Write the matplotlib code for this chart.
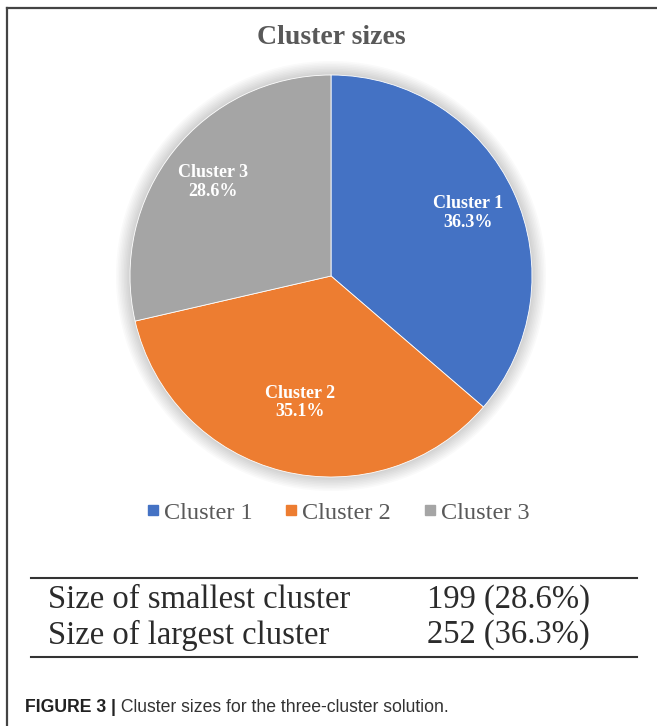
import numpy as np
import matplotlib
matplotlib.use("Agg")
import matplotlib.pyplot as plt
from matplotlib.patches import Circle
from matplotlib.lines import Line2D

# Data
CLUSTERS = ["Cluster 1", "Cluster 2", "Cluster 3"]
SHARES = [36.3, 35.1, 28.6]
COLORS = ["#4472C4", "#ED7D31", "#A5A5A5"]
TITLE = "Cluster sizes"
TABLE_ROWS = ["Size of smallest cluster", "Size of largest cluster"]
TABLE_VALUES = ["199 (28.6%)", "252 (36.3%)"]
CAPTION_BOLD = "FIGURE 3 |"
CAPTION_TEXT = " Cluster sizes for the three-cluster solution."
# label distance from centre, per slice (fraction of radius)
LABEL_DIST = [0.75, 0.65, 0.75]

W, H = 657, 726
SERIF = "Liberation Serif"
SANS = "Liberation Sans"

fig = plt.figure(figsize=(W / 100, H / 100), dpi=100)
fig.patch.set_facecolor("white")

# background axes in pixel coords for frame, table, caption
bg = fig.add_axes([0, 0, 1, 1], zorder=0)
bg.set_xlim(0, W)
bg.set_ylim(H, 0)
bg.axis("off")

# frame (left and top edges)
bg.add_line(Line2D([7, 7], [8, H], color="#444444", lw=1.6))
bg.add_line(Line2D([7, W], [8, 8], color="#444444", lw=1.6))

bg.text(331, 38, TITLE, ha="center", va="center", fontsize=20,
        fontweight="bold", family=SERIF, color="#595959")

# pie
cx, cy, r = 331, 276, 201
pad = 1.12
pie_ax = fig.add_axes([(cx - r * pad) / W, (H - cy - r * pad) / H,
                       2 * r * pad / W, 2 * r * pad / H], zorder=1)
pie_ax.patch.set_alpha(0)

# soft glow/shadow behind the pie
for rr in np.linspace(1.07, 1.0, 10):
    pie_ax.add_patch(Circle((0, 0.0), rr, color="#000000", alpha=0.018, lw=0, zorder=0))

wedges, _ = pie_ax.pie(SHARES, colors=COLORS, startangle=90, counterclock=False,
                       radius=1.0, wedgeprops=dict(edgecolor="white", linewidth=0.6))
for w in wedges:
    w.set_zorder(2)

pie_ax.set_xlim(-pad, pad)
pie_ax.set_ylim(-pad, pad)
pie_ax.set_aspect("equal")
pie_ax.axis("off")

for w, name, share, d in zip(wedges, CLUSTERS, SHARES, LABEL_DIST):
    mid = np.deg2rad((w.theta1 + w.theta2) / 2)
    pie_ax.text(d * np.cos(mid), d * np.sin(mid), f"{name}\n{share:.1f}%",
                ha="center", va="center", fontsize=13, fontweight="bold",
                family=SERIF, color="white", linespacing=1.1, zorder=3)

# legend
handles = [Line2D([], [], marker="s", linestyle="", markersize=7,
                  markerfacecolor=c, markeredgecolor=c) for c in COLORS]
leg = fig.legend(handles, CLUSTERS, loc="center", ncol=3,
                 bbox_to_anchor=(336 / W, 1 - 513 / H), frameon=False,
                 prop={"family": SERIF, "size": 17.5}, handletextpad=0.05,
                 columnspacing=1.2, handlelength=0.8)
for t in leg.get_texts():
    t.set_color("#595959")

# table
bg.add_line(Line2D([31, 637], [578, 578], color="#333333", lw=1.5))
bg.add_line(Line2D([31, 637], [657, 657], color="#333333", lw=1.5))
for y, label, val in zip([600, 635], TABLE_ROWS, TABLE_VALUES):
    bg.text(48, y, label, ha="left", va="center", fontsize=23.5,
            family=SERIF, color="#2b2b2b")
    bg.text(590, y, val, ha="right", va="center", fontsize=23.5,
            family=SERIF, color="#2b2b2b")

# caption
t1 = bg.text(25, 708, CAPTION_BOLD, ha="left", va="center", fontsize=12.7,
             fontweight="bold", family=SANS, color="#222222")
bg.annotate(CAPTION_TEXT, xy=(1, 0.5), xycoords=t1, ha="left", va="center",
            fontsize=12.7, family=SANS, color="#333333")

fig.savefig("out.png", dpi=100, facecolor="white")
